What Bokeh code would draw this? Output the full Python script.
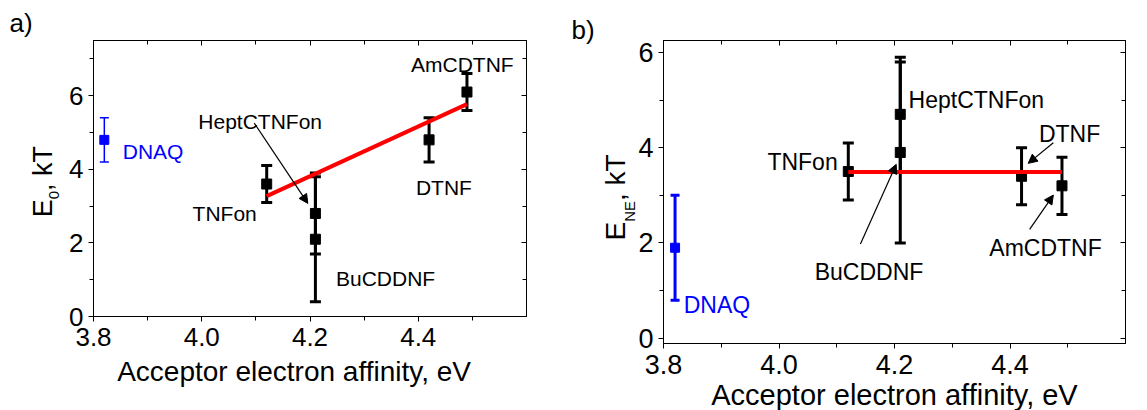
import math
from jinja2 import Template
from bokeh.plotting import figure
from bokeh.layouts import row
from bokeh.models import (Range1d, LinearAxis, SingleIntervalTicker, CustomJSTickFormatter,
                          NumeralTickFormatter, Label, Arrow, NormalHead)
from bokeh.core.properties import value
from bokeh.embed import file_html
from bokeh.resources import INLINE

FONT = "Liberation Sans"

# ---------------- data ----------------
acceptors = ["TNFon", "HeptCTNFon", "BuCDDNF", "DTNF", "AmCDTNF"]
affinity = [4.12, 4.21, 4.21, 4.42, 4.49]          # eV
e0 = [3.6, 2.8, 2.1, 4.8, 6.1]                      # kT
e0_err = [0.5, 1.1, 1.7, 0.6, 0.5]
ene = [3.5, 4.7, 3.9, 3.4, 3.2]                     # kT
ene_err = [0.6, 1.2, 1.9, 0.6, 0.6]

dnaq_name = ["DNAQ"]
dnaq_affinity = [3.82]
dnaq_e0 = [4.8]
dnaq_e0_err = [0.6]
dnaq_ene = [1.9]
dnaq_ene_err = [1.1]

fit_a_x = [4.12, 4.49]
fit_a_y = [3.27, 5.77]
fit_b_x = [4.12, 4.49]
fit_b_y = [3.49, 3.49]

x_title = "Acceptor electron affinity, eV"

# ---------------- annotation layout (label positions) ----------------
labels_a = [  # text, x, y, align
    ("TNFon", 4.1016, 2.80, "right"),
    ("HeptCTNFon", 3.9937, 5.30, "left"),
    ("BuCDDNF", 4.248, 1.045, "left"),
    ("DTNF", 4.3957, 3.50, "left"),
    ("AmCDTNF", 4.3866, 6.845, "left"),
]
dnaq_label_a = (3.854, 4.48)
arrows_a = [(4.097, 5.255, 4.196, 3.073)]

labels_b = [
    ("TNFon", 4.1016, 3.705, "right"),
    ("HeptCTNFon", 4.2244, 5.0, "left"),
    ("BuCDDNF", 4.0618, 1.397, "left"),
    ("DTNF", 4.450, 4.286, "left"),
    ("AmCDTNF", 4.3642, 1.90, "left"),
]
dnaq_label_b = (3.835, 0.699)
arrows_b = [(4.141, 1.977, 4.203, 3.65),
            (4.475, 4.103, 4.4315, 3.671),
            (4.434, 2.287, 4.475, 3.006)]


def make_panel(fw, fh, bl, br, bt, bb, yr, tick_fs):
    p = figure(frame_width=fw, frame_height=fh, output_backend="svg", toolbar_location=None,
               x_range=Range1d(3.8, 4.6), y_range=Range1d(*yr),
               min_border_left=bl, min_border_right=br, min_border_top=bt, min_border_bottom=bb)
    p.xgrid.visible = False
    p.ygrid.visible = False
    p.outline_line_color = "black"
    p.outline_line_width = 1
    p.outline_line_alpha = 1
    p.background_fill_color = "white"
    p.border_fill_color = "white"

    xa = p.below[0]
    ya = p.left[0]
    xa.ticker = SingleIntervalTicker(interval=0.2, num_minor_ticks=2)
    ya.ticker = SingleIntervalTicker(interval=2, num_minor_ticks=2)
    xa.formatter = NumeralTickFormatter(format="0.0")
    ya.formatter = NumeralTickFormatter(format="0")
    for ax in (xa, ya):
        ax.axis_line_color = "black"
        ax.major_tick_line_color = "black"
        ax.minor_tick_line_color = "black"
        ax.major_tick_out = 5
        ax.major_tick_in = 0
        ax.minor_tick_out = 4
        ax.minor_tick_in = 0
        ax.major_label_text_font = FONT
        ax.major_label_text_font_size = tick_fs
        ax.major_label_text_color = "black"
        ax.axis_label_text_font = FONT
        ax.axis_label_text_font_style = "normal"
        ax.axis_label_text_color = "black"
    xa.major_label_standoff = 6
    ya.major_label_standoff = 5

    blank = CustomJSTickFormatter(code="return ''")
    top = LinearAxis(ticker=SingleIntervalTicker(interval=0.2, num_minor_ticks=2), formatter=blank,
                     major_tick_in=5, major_tick_out=0, minor_tick_in=4, minor_tick_out=0,
                     major_label_standoff=0, axis_line_color="black")
    right = LinearAxis(ticker=SingleIntervalTicker(interval=2, num_minor_ticks=2), formatter=blank,
                       major_tick_in=5, major_tick_out=0, minor_tick_in=4, minor_tick_out=0,
                       major_label_standoff=0, axis_line_color="black")
    p.add_layout(top, "above")
    p.add_layout(right, "right")
    return p, xa


def draw(p, yvals, yerr, dnaq_y, dnaq_err, blue_lw, fit_x, fit_y, labels, dnaq_lab, arrows, ann_fs):
    lo = [v - e for v, e in zip(yvals, yerr)]
    hi = [v + e for v, e in zip(yvals, yerr)]
    p.segment(x0=affinity, y0=lo, x1=affinity, y1=hi, line_color="black", line_width=3)
    p.scatter(x=affinity + affinity, y=lo + hi, marker="dash", size=11, line_color="black", line_width=3)
    p.scatter(x=affinity, y=yvals, marker="square", size=10, fill_color="black", line_color="black")

    dlo = [v - e for v, e in zip(dnaq_y, dnaq_err)]
    dhi = [v + e for v, e in zip(dnaq_y, dnaq_err)]
    p.segment(x0=dnaq_affinity, y0=dlo, x1=dnaq_affinity, y1=dhi, line_color="#0000ff", line_width=blue_lw)
    p.scatter(x=dnaq_affinity + dnaq_affinity, y=dlo + dhi, marker="dash", size=9,
              line_color="#0000ff", line_width=blue_lw)
    p.scatter(x=dnaq_affinity, y=dnaq_y, marker="square", size=9, fill_color="#0000ff", line_color="#0000ff")

    p.line(fit_x, fit_y, line_color="#ff0000", line_width=4)

    for t, x, y, al in labels:
        p.text(x=[x], y=[y], text=[t], text_align=al, text_baseline="alphabetic",
               text_font=value(FONT), text_font_size=ann_fs, text_color="black")
    p.text(x=[dnaq_lab[0]], y=[dnaq_lab[1]], text=dnaq_name, text_align="left", text_baseline="alphabetic",
           text_font=value(FONT), text_font_size=ann_fs, text_color="#0000ff")
    for x0, y0, x1, y1 in arrows:
        p.add_layout(Arrow(end=NormalHead(size=9, line_color="black", fill_color="black", line_width=1),
                           x_start=x0, y_start=y0, x_end=x1, y_end=y1, line_color="black", line_width=1.2))


def px_label(p, text, dx, dy, fs, angle=0.0, align="left", color="black"):
    # dx, dy: pixel offsets from the frame's bottom-left corner (dy upward).
    # Placed in a side panel so that it is not clipped to the frame.
    p.add_layout(Label(x=p.x_range.start, y=p.y_range.start, x_offset=dx, y_offset=dy, text=text,
                       angle=angle, text_font=FONT, text_font_size=fs, text_color=color,
                       text_align=align, text_baseline="alphabetic"), "below")


# ---------------- panel a ----------------
pa, xa_a = make_panel(433, 276, 93, 34, 40, 86, (0, 7.5), "26px")
draw(pa, e0, e0_err, dnaq_e0, dnaq_e0_err, 1.5, fit_a_x, fit_a_y, labels_a, dnaq_label_a, arrows_a, "21px")
px_label(pa, "E", -51, 99.3, "27px", angle=math.pi / 2)
px_label(pa, "0", -39.7, 117.3, "15px", angle=math.pi / 2)
px_label(pa, ", kT", -51, 125.6, "27px", angle=math.pi / 2)
px_label(pa, "a)", -84, 293.5, "26px")
px_label(pa, x_title, 200.6, -54.5, "28px", align="center")

# ---------------- panel b ----------------
pb, xa_b = make_panel(462, 303, 103, 22, 40, 60, (-0.11, 6.25), "27px")
xa_b.axis_label = x_title
xa_b.axis_label_text_font_size = "29px"
xa_b.axis_label_standoff = 2
draw(pb, ene, ene_err, dnaq_ene, dnaq_ene_err, 3, fit_b_x, fit_b_y, labels_b, dnaq_label_b, arrows_b, "23px")
px_label(pb, "E", -48, 103, "28px", angle=math.pi / 2)
px_label(pb, "NE", -34, 121.7, "15px", angle=math.pi / 2)
px_label(pb, ", kT", -48, 142.5, "28px", angle=math.pi / 2)
px_label(pb, "b)", -92, 314, "26px")

layout = row(pa, pb)

page_template = Template("""{% extends base %}
{% block postamble %}<style>html, body { overflow: hidden; }</style>{% endblock %}
""")
open("out.html", "w").write(file_html(layout, INLINE, template=page_template))
